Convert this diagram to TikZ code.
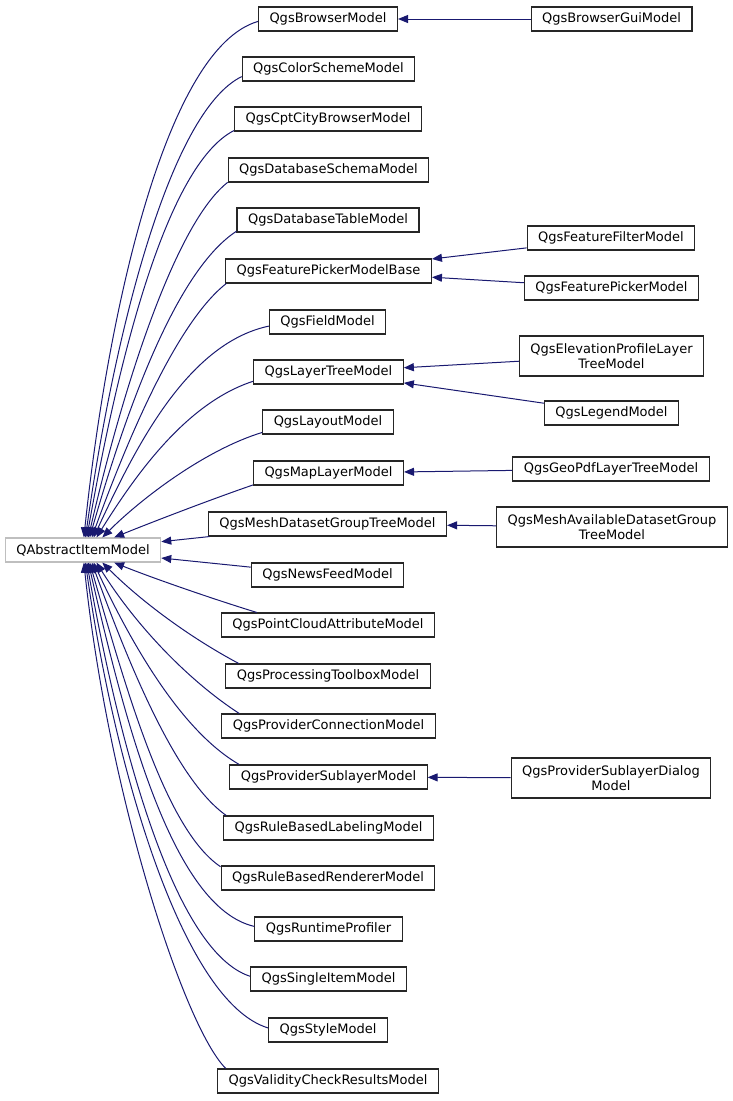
\documentclass[tikz,border=0pt]{standalone}
\usepackage{fontspec}
\setmainfont{DejaVu Sans}
\usetikzlibrary{arrows.meta}
\definecolor{inhblue}{HTML}{191970}

\begin{document}
\begin{tikzpicture}[
    x=1pt, y=1pt,
    every node/.style={font=\fontsize{13}{15}\selectfont},
    cls/.style={draw=black!85, fill=white, line width=1.1pt, inner xsep=11pt, inner ysep=3pt, minimum height=24pt},
    cls2/.style={cls, align=center, minimum height=40pt},
    rootcls/.style={cls, draw=black!25},
    inh/.style={draw=inhblue, line width=1pt, -{Triangle[length=10pt,width=8pt]}}
]
\useasboundingbox (0,0) rectangle (733,-1101);

% Base class
\node[rootcls] (qaim) at (83,-550) {QAbstractItemModel};

% Direct subclasses
\node[cls] (browser)      at (328,-19)   {QgsBrowserModel};
\node[cls] (colorscheme)  at (328.5,-69) {QgsColorSchemeModel};
\node[cls] (cptcity)      at (328,-119)  {QgsCptCityBrowserModel};
\node[cls] (dbschema)     at (328.5,-170) {QgsDatabaseSchemaModel};
\node[cls] (dbtable)      at (328,-220)  {QgsDatabaseTableModel};
\node[cls] (fpbase)       at (328.5,-271) {QgsFeaturePickerModelBase};
\node[cls] (field)        at (327.5,-322) {QgsFieldModel};
\node[cls] (layertree)    at (328.5,-372) {QgsLayerTreeModel};
\node[cls] (layout)       at (328,-422)  {QgsLayoutModel};
\node[cls] (maplayer)     at (328.5,-473) {QgsMapLayerModel};
\node[cls] (mesh)         at (327.5,-524) {QgsMeshDatasetGroupTreeModel};
\node[cls] (newsfeed)     at (327.5,-575) {QgsNewsFeedModel};
\node[cls] (pointcloud)   at (328,-625)  {QgsPointCloudAttributeModel};
\node[cls] (processing)   at (328,-676)  {QgsProcessingToolboxModel};
\node[cls] (providerconn) at (328.5,-726) {QgsProviderConnectionModel};
\node[cls] (providersub)  at (328.5,-777) {QgsProviderSublayerModel};
\node[cls] (rulelabel)    at (328.5,-828) {QgsRuleBasedLabelingModel};
\node[cls] (rulerender)   at (328,-878)  {QgsRuleBasedRendererModel};
\node[cls] (runtime)      at (328.5,-929) {QgsRuntimeProfiler};
\node[cls] (single)       at (328.5,-979) {QgsSingleItemModel};
\node[cls] (style)        at (328,-1030) {QgsStyleModel};
\node[cls] (validity)     at (328,-1081) {QgsValidityCheckResultsModel};

% Second level
\node[cls]  (browsergui)     at (611.5,-19)  {QgsBrowserGuiModel};
\node[cls]  (ffilter)        at (611,-238)   {QgsFeatureFilterModel};
\node[cls]  (fpicker)        at (611.5,-288) {QgsFeaturePickerModel};
\node[cls2] (elevation)      at (611.5,-356) {QgsElevationProfileLayer\\TreeModel};
\node[cls]  (legend)         at (611.5,-413) {QgsLegendModel};
\node[cls]  (geopdf)         at (611,-469)   {QgsGeoPdfLayerTreeModel};
\node[cls2] (meshavail)      at (612,-527)   {QgsMeshAvailableDatasetGroup\\TreeModel};
\node[cls2] (sublayerdialog) at (611,-778)   {QgsProviderSublayerDialog\\Model};

% Curved inheritance arrows, upper half
\foreach \n/\s/\o/\t/\i/\p/\q in {
    browser/182/196/86/84/95pt/230pt,
    colorscheme/185/206/79/82/80pt/205pt,
    cptcity/187/207/73/80/75pt/185pt,
    dbschema/187/218/67/77/65pt/160pt,
    dbtable/187/213/62/74/70pt/140pt,
    fpbase/187/218/55/70/60pt/115pt,
    field/184/192/50/65/85pt/95pt,
    layertree/187/198/43/58/70pt/75pt,
    layout/189/197/33/45/60pt/55pt,
    maplayer/189/199/22/22/45pt/40pt}
    \draw[inh] (\n.\s) to[out=\o, in=\i, out distance=\p, in distance=\q] (qaim.\t);

% Curved inheritance arrows, lower half
\foreach \n/\s/\o/\t/\i/\p/\q in {
    pointcloud/170/163/338/-22/45pt/40pt,
    processing/172/152/327/-45/55pt/55pt,
    providerconn/172/147/317/-58/60pt/75pt,
    providersub/172/150/310/-65/65pt/95pt,
    rulelabel/173/145/305/-70/60pt/115pt,
    rulerender/174/146/298/-74/65pt/140pt,
    runtime/178/167/293/-77/85pt/160pt,
    single/178/162/287/-80/80pt/185pt,
    style/178/163/281/-82/90pt/205pt,
    validity/173/135/274/-84/60pt/230pt}
    \draw[inh] (\n.\s) to[out=\o, in=\i, out distance=\p, in distance=\q] (qaim.\t);

% Straight arrows
\foreach \a/\b in {mesh/qaim, newsfeed/qaim, browsergui/browser, ffilter/fpbase,
    fpicker/fpbase, elevation/layertree, legend/layertree, geopdf/maplayer,
    meshavail/mesh, sublayerdialog/providersub}
    \draw[inh] (\a) -- (\b);

\end{tikzpicture}
\end{document}
